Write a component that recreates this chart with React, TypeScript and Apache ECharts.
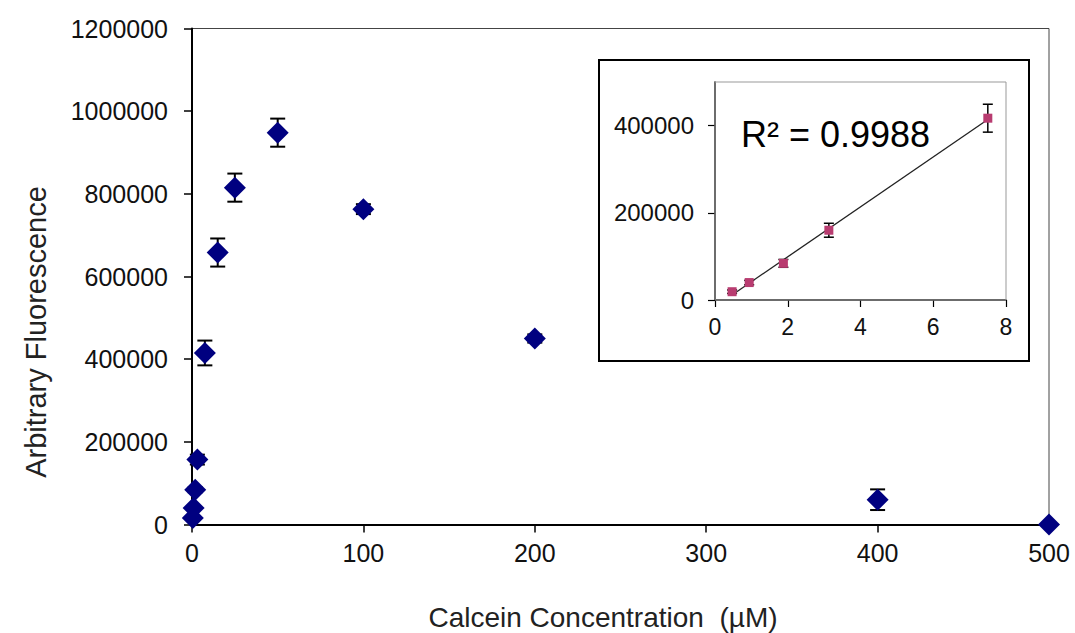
import React, { useEffect, useRef } from "react";
import * as echarts from "echarts";

// Main chart data (Calcein concentration µM vs arbitrary fluorescence)
const mainX = [0.47, 0.94, 1.88, 3.13, 7.5, 15, 25, 50, 100, 200, 400, 500];
const mainY = [16000, 40000, 84000, 157000, 415000, 658000, 815000, 948000, 763000, 450000, 60000, 0];
const mainErr = [3000, 4000, 6000, 12000, 30000, 34000, 34000, 34000, 12000, 10000, 25000, 3000];

// Inset (linear range)
const insetX = [0.47, 0.94, 1.88, 3.13, 7.5];
const insetY = [19000, 40000, 84000, 160000, 417000];
const insetErr = [4000, 5000, 9000, 16000, 32000];

const mainXTicks = [0, 100, 200, 300, 400, 500];
const mainYTicks = [0, 200000, 400000, 600000, 800000, 1000000, 1200000];
const insetXTicks = [0, 2, 4, 6, 8];
const insetYLabels = [0, 200000, 400000];
const r2Label = "R² = 0.9988";

const FONT = "'Liberation Sans', Arial, sans-serif";

function linReg(xs: number[], ys: number[]) {
  const n = xs.length;
  const mx = xs.reduce((a, b) => a + b, 0) / n;
  const my = ys.reduce((a, b) => a + b, 0) / n;
  let sxy = 0, sxx = 0;
  for (let i = 0; i < n; i++) {
    sxy += (xs[i] - mx) * (ys[i] - my);
    sxx += (xs[i] - mx) * (xs[i] - mx);
  }
  const slope = sxy / sxx;
  return { slope, intercept: my - slope * mx };
}

function errorRender(capHalf: number, width: number) {
  return (params: any, api: any) => {
    const x = api.value(0);
    const y = api.value(1);
    const e = api.value(2);
    const top = api.coord([x, y + e]);
    const bot = api.coord([x, y - e]);
    const style = { stroke: "#000", lineWidth: width };
    return {
      type: "group",
      children: [
        { type: "line", shape: { x1: top[0], y1: top[1], x2: bot[0], y2: bot[1] }, style },
        { type: "line", shape: { x1: top[0] - capHalf, y1: top[1], x2: top[0] + capHalf, y2: top[1] }, style },
        { type: "line", shape: { x1: bot[0] - capHalf, y1: bot[1], x2: bot[0] + capHalf, y2: bot[1] }, style },
      ],
    };
  };
}

export default function App() {
  const ref = useRef<HTMLDivElement>(null);

  useEffect(() => {
    if (!ref.current) return;
    const chart = echarts.init(ref.current, undefined, { renderer: "svg" });
    const reg = linReg(insetX, insetY);
    const x0 = Math.min(...insetX);
    const x1 = Math.max(...insetX);
    const trend = [
      [x0, reg.intercept + reg.slope * x0],
      [x1, reg.intercept + reg.slope * x1],
    ];

    const axisLine = { show: true, lineStyle: { color: "#000", width: 2 } };
    const axisTick = { show: true, inside: false, length: 8, lineStyle: { color: "#000", width: 1.5 } };

    chart.setOption({
      animation: false,
      backgroundColor: "#fff",
      textStyle: { fontFamily: FONT },
      grid: [
        { left: 192, right: 26, top: 28.5, bottom: 108.5, show: true, borderColor: "#444", borderWidth: 1, backgroundColor: "transparent", z: 0 },
        { left: 715, right: 69, top: 82, bottom: 333, show: true, borderColor: "#999", borderWidth: 1, backgroundColor: "transparent", z: 2 },
      ],
      xAxis: [
        {
          type: "value", gridIndex: 0, min: mainXTicks[0], max: mainXTicks[mainXTicks.length - 1], interval: 100,
          axisLine, axisTick, splitLine: { show: false },
          axisLabel: { fontSize: 25, color: "#111", margin: 16, fontFamily: FONT, formatter: (v: number) => String(v) },
        },
        {
          type: "value", gridIndex: 1, min: insetXTicks[0], max: insetXTicks[insetXTicks.length - 1], interval: 2,
          axisLine: { show: true, lineStyle: { color: "#000", width: 1.5 } },
          axisTick: { show: true, length: 7, lineStyle: { color: "#000", width: 1.2 } },
          splitLine: { show: false },
          axisLabel: { fontSize: 23, color: "#111", margin: 15, fontFamily: FONT, formatter: (v: number) => String(v) },
        },
      ],
      yAxis: [
        {
          type: "value", gridIndex: 0, min: mainYTicks[0], max: mainYTicks[mainYTicks.length - 1], interval: 200000,
          axisLine, axisTick, splitLine: { show: false },
          axisLabel: { fontSize: 25, color: "#111", margin: 24, fontFamily: FONT, formatter: (v: number) => String(v) },
        },
        {
          type: "value", gridIndex: 1, min: 0, max: 500000, interval: 200000,
          axisLine: { show: true, lineStyle: { color: "#000", width: 1.5 } },
          axisTick: { show: true, length: 7, lineStyle: { color: "#000", width: 1.2 } },
          splitLine: { show: false },
          axisLabel: {
            fontSize: 24, color: "#111", margin: 21, fontFamily: FONT, showMaxLabel: false,
            formatter: (v: number) => (insetYLabels.indexOf(v) >= 0 ? String(v) : ""),
          },
        },
      ],
      graphic: [
        {
          type: "rect", z: -10, silent: true,
          shape: { x: 599, y: 60, width: 430, height: 301 },
          style: { fill: "#fff", stroke: "#000", lineWidth: 2 },
        },
        {
          type: "text", z: 100, x: 741, y: 134,
          style: { text: r2Label, font: `36px ${FONT}`, fill: "#000", textAlign: "left", textVerticalAlign: "middle" },
        },
        {
          type: "text", z: 100, x: 36, y: 332, rotation: Math.PI / 2,
          style: { text: "Arbitrary Fluorescence", font: `29px ${FONT}`, fill: "#222", textAlign: "center", textVerticalAlign: "middle" },
        },
        {
          type: "text", z: 100, x: 603, y: 617,
          style: { text: "Calcein Concentration  (µM)", font: `28px ${FONT}`, fill: "#222", textAlign: "center", textVerticalAlign: "middle" },
        },
      ],
      series: [
        {
          type: "custom", xAxisIndex: 0, yAxisIndex: 0, z: 3,
          renderItem: errorRender(7.5, 2),
          data: mainX.map((x, i) => [x, mainY[i], mainErr[i]]),
          encode: { x: 0, y: 1 },
          clip: false,
        },
        {
          type: "scatter", xAxisIndex: 0, yAxisIndex: 0, z: 4, clip: false,
          symbol: "diamond", symbolSize: 22,
          itemStyle: { color: "#000080", opacity: 1 },
          data: mainX.map((x, i) => [x, mainY[i]]),
        },
        {
          type: "line", xAxisIndex: 1, yAxisIndex: 1, z: 5,
          data: trend, showSymbol: false, symbol: "none",
          lineStyle: { color: "#222", width: 1.3 },
        },
        {
          type: "custom", xAxisIndex: 1, yAxisIndex: 1, z: 6,
          renderItem: errorRender(5, 1.5),
          data: insetX.map((x, i) => [x, insetY[i], insetErr[i]]),
          encode: { x: 0, y: 1 },
          clip: false,
        },
        {
          type: "scatter", xAxisIndex: 1, yAxisIndex: 1, z: 7, clip: false,
          symbol: "rect", symbolSize: 9,
          itemStyle: { color: "#b83c70", opacity: 1 },
          data: insetX.map((x, i) => [x, insetY[i]]),
        },
      ],
    });
    return () => chart.dispose();
  }, []);

  return (
    <div
      ref={ref}
      style={{ position: "fixed", left: 0, top: 0, width: 1075, height: 633, background: "#fff" }}
    />
  );
}
